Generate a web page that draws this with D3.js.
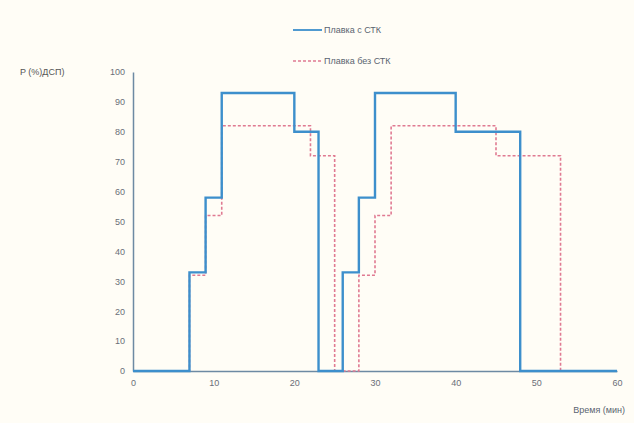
<!DOCTYPE html>
<html><head><meta charset="utf-8">
<script src="https://cdn.jsdelivr.net/npm/d3@7"></script>
<style>body{margin:0;background:#fffdf6;}svg{display:block;}</style>
</head><body>
<svg id="c" width="634" height="423"></svg>
<script>
// step series: [time (min), P (%)] — value holds from this time until the next point
const seriesNames = ["Плавка с СТК", "Плавка без СТК"];
const withSTK = [[0,0],[7,33],[9,58],[11,93],[20,80],[23,0],[26,33],[28,58],[30,93],[40,80],[48,0],[60,0]];
const withoutSTK = [[0,0],[7,32],[9,52],[11,82],[22,72],[25,0],[28,32],[30,52],[32,82],[45,72],[53,0],[60,0]];
const xTicks = [0,10,20,30,40,50,60];
const yTicks = [0,10,20,30,40,50,60,70,80,90,100];
const yTitle = "P (%)ДСП)";
const xTitle = "Время (мин)";

const svg = d3.select("#c");
svg.append("rect").attr("width",634).attr("height",423).attr("fill","#fffdf6");
const x = d3.scaleLinear().domain([0,60]).range([133,617]);
const y = d3.scaleLinear().domain([0,100]).range([371,72]);
const font = "Arial, 'Liberation Sans', sans-serif";

const line = d3.line().x(d=>x(d[0])).y(d=>y(d[1])).curve(d3.curveStepAfter);

// y axis
const ya = svg.append("g").attr("transform","translate(133,0)")
  .call(d3.axisLeft(y).tickValues(yTicks).tickSize(0).tickPadding(8));
ya.select(".domain").attr("stroke","#6d8aa3").attr("stroke-width",1.5);
ya.selectAll("text").attr("font-family",font).attr("font-size",9).attr("fill","#6a6f78");

// x axis
const xa = svg.append("g").attr("transform","translate(0,371)")
  .call(d3.axisBottom(x).tickValues(xTicks).tickSize(0).tickPadding(9));
xa.select(".domain").attr("stroke","#6d8aa3").attr("stroke-width",1.5);
xa.selectAll("text").attr("font-family",font).attr("font-size",9).attr("fill","#6a6f78");

// series
svg.append("path").datum(withoutSTK).attr("d",line).attr("fill","none")
  .attr("stroke","#e07a92").attr("stroke-width",1.6).attr("stroke-dasharray","3,2");
svg.append("path").datum(withSTK).attr("d",line).attr("fill","none")
  .attr("stroke","#3d8fcc").attr("stroke-width",2.4);

// titles
svg.append("text").attr("x",20).attr("y",75).text(yTitle)
  .attr("font-family",font).attr("font-size",9).attr("fill","#555");
svg.append("text").attr("x",625).attr("y",413).attr("text-anchor","end").text(xTitle)
  .attr("font-family",font).attr("font-size",9).attr("fill","#5a6470");

// legend
const leg = [{y:30, color:"#3d8fcc", dash:null, w:1.8},{y:61, color:"#e07a92", dash:"3,2", w:1.3}];
leg.forEach((l,i)=>{
  svg.append("line").attr("x1",293).attr("x2",322).attr("y1",l.y).attr("y2",l.y)
    .attr("stroke",l.color).attr("stroke-width",l.w).attr("stroke-dasharray",l.dash);
  svg.append("text").attr("x",324).attr("y",l.y+3).text(seriesNames[i])
    .attr("font-family",font).attr("font-size",9).attr("fill","#5a6470");
});
</script>
</body></html>
